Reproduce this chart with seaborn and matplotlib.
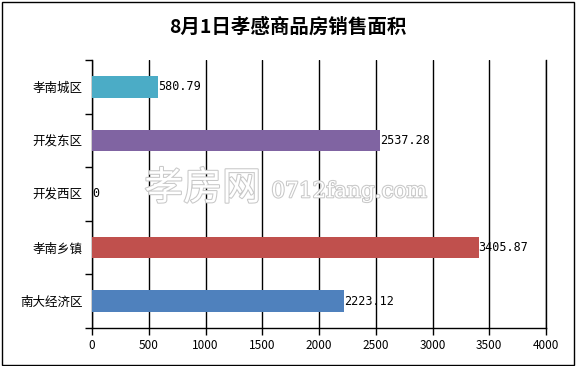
import pandas as pd
import matplotlib
matplotlib.use("Agg")
import matplotlib.pyplot as plt
import matplotlib.patheffects as pe
from matplotlib.patches import Rectangle
import seaborn as sns

# 数据
regions = ['孝南城区', '开发东区', '开发西区', '孝南乡镇', '南大经济区']
areas = [580.79, 2537.28, 0, 3405.87, 2223.12]
colors = ['#4BACC6', '#8064A2', '#8064A2', '#C0504D', '#4F81BD']
xticks = [0, 500, 1000, 1500, 2000, 2500, 3000, 3500, 4000]

df = pd.DataFrame({'区域': regions, '面积': areas})

sns.set_style('white')
plt.rcParams['font.family'] = ['Noto Sans CJK SC', 'DejaVu Sans']
plt.rcParams['text.color'] = 'black'
plt.rcParams['xtick.color'] = 'black'
plt.rcParams['ytick.color'] = 'black'

fig = plt.figure(figsize=(5.76, 3.66), dpi=100)
ax = fig.add_axes([0.160, 0.104, 0.788, 0.732])

sns.barplot(data=df, y='区域', x='面积', hue='区域', palette=colors,
            orient='h', width=0.4, legend=False, ax=ax, zorder=3,
            saturation=1, edgecolor='none', linewidth=0)

for c in ax.containers:
    ax.bar_label(c, labels=[f'{v:g}' if v == 0 else f'{v:.2f}' for v in c.datavalues],
                 padding=0, fontsize=8.5, family='DejaVu Sans Mono', zorder=4)

ax.set_xlim(0, 4000)
ax.set_ylim(4.5, -0.5)
ax.set_xticks(xticks)
ax.set_xticklabels([str(t) for t in xticks], fontsize=8.5)
ax.set_yticks(range(len(regions)))
ax.set_yticklabels(regions, fontsize=9)
ax.set_yticks([i - 0.5 for i in range(len(regions) + 1)], minor=True)
ax.tick_params(axis='y', which='major', left=True, length=0, pad=7)
ax.tick_params(axis='y', which='minor', left=True, length=5, width=1,
               color='black', direction='out')
ax.tick_params(axis='x', which='major', bottom=True, length=5, width=1,
               color='black', direction='out', pad=3)
ax.set_xlabel('')
ax.set_ylabel('')
ax.xaxis.grid(True, color='black', linewidth=1, zorder=0)
ax.spines['top'].set_visible(False)
for s in ['left', 'bottom', 'right']:
    ax.spines[s].set_color('black')
    ax.spines[s].set_linewidth(1)

# 水印
ax.text(0.115, 0.52, '孝房网', transform=ax.transAxes, fontsize=28, color='white',
        va='center', ha='left', zorder=2,
        path_effects=[pe.withStroke(linewidth=1.5, foreground='#C8C8C8')])
ax.text(0.395, 0.51, '0712fang.com', transform=ax.transAxes, fontsize=15.5, color='white',
        va='center', ha='left', family='DejaVu Serif', zorder=2,
        path_effects=[pe.withStroke(linewidth=1.5, foreground='#C8C8C8')])

fig.text(0.5, 0.925, '8月1日孝感商品房销售面积', ha='center', va='center',
         fontsize=14, fontweight='bold', color='black')

fig.patches.append(Rectangle((0.003, 0.004), 0.993, 0.99, transform=fig.transFigure,
                             fill=False, edgecolor='black', linewidth=1))

fig.savefig('out.png', dpi=100)
